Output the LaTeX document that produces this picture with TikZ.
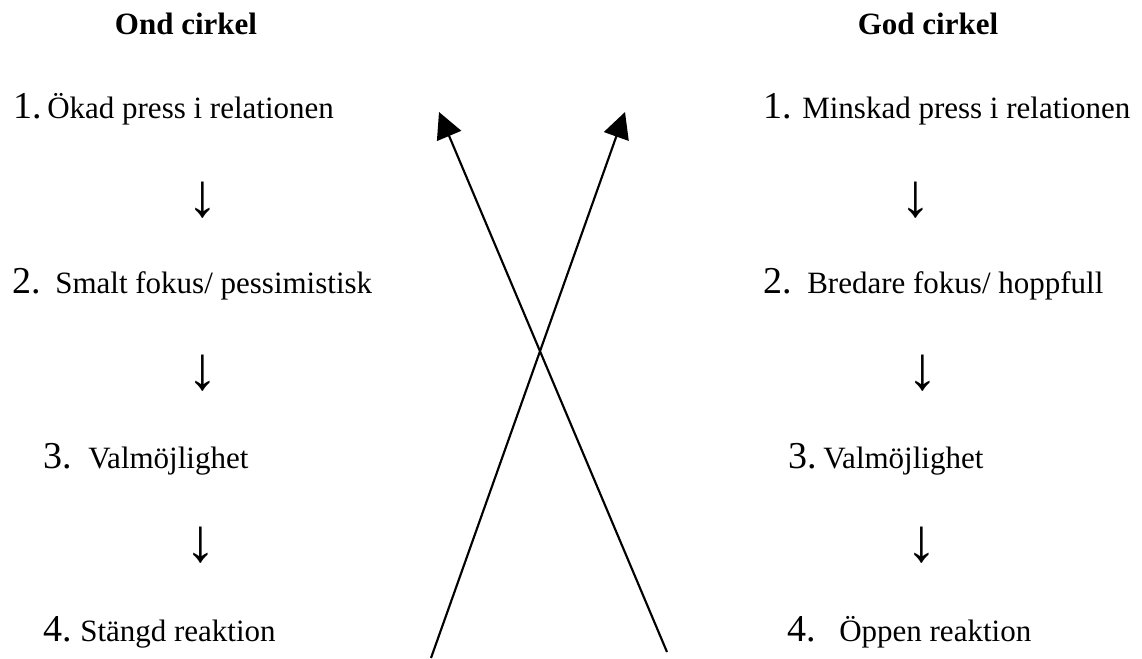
\documentclass[tikz,border=0pt]{standalone}
\usepackage{fontspec}
\setmainfont{Liberation Serif}
\usetikzlibrary{arrows.meta}
\begin{document}
\begin{tikzpicture}[x=0.75pt,y=-0.75pt,
  title/.style={font=\fontsize{23.25}{28}\selectfont\bfseries, inner sep=0pt, anchor=base},
  num/.style={font=\fontsize{28.5}{32}\selectfont, inner sep=0pt, anchor=base west},
  txt/.style={font=\fontsize{23.25}{28}\selectfont, inner sep=0pt, anchor=base west},
  dn/.style={font=\fontsize{46}{50}\selectfont, inner sep=0pt, anchor=center},
  bigarrow/.style={line width=1.6pt, -{Triangle[length=19.5pt,width=19.5pt]}}]
\useasboundingbox (0,0) rectangle (1142,659);
% titles
\node[title] (tl) at (186,35) {Ond cirkel};
\node[title] (tr) at (928,35) {God cirkel};
% left column
\node[num] (l1n) at (13,119) {1.};
\node[txt] (l1t) at (47,119) {Ökad press i relationen};
\node[dn] (l1d) at (203,200) {↓};
\node[num] (l2n) at (12,293) {2.};
\node[txt] (l2t) at (55,293) {Smalt fokus/ pessimistisk};
\node[dn] (l2d) at (203,373) {↓};
\node[num] (l3n) at (43,468) {3.};
\node[txt] (l3t) at (88,468) {Valmöjlighet};
\node[dn] (l3d) at (201,545) {↓};
\node[num] (l4n) at (43,641) {4.};
\node[txt] (l4t) at (80,641) {Stängd reaktion};
% right column
\node[num] (r1n) at (763,119) {1.};
\node[txt] (r1t) at (802,119) {Minskad press i relationen};
\node[dn] (r1d) at (916,200) {↓};
\node[num] (r2n) at (763,293) {2.};
\node[txt] (r2t) at (807,293) {Bredare fokus/ hoppfull};
\node[dn] (r2d) at (923,373) {↓};
\node[num] (r3n) at (788,468) {3.};
\node[txt] (r3t) at (823,468) {Valmöjlighet};
\node[dn] (r3d) at (922,545) {↓};
\node[num] (r4n) at (787,641) {4.};
\node[txt] (r4t) at (839,641) {Öppen reaktion};
% crossing arrows
\coordinate (a1s) at (667,652);
\coordinate (a1e) at (439,112);
\coordinate (a2s) at (431,658);
\coordinate (a2e) at (625,112);
\draw[bigarrow] (a1s) -- (a1e);
\draw[bigarrow] (a2s) -- (a2e);
\end{tikzpicture}
\end{document}
